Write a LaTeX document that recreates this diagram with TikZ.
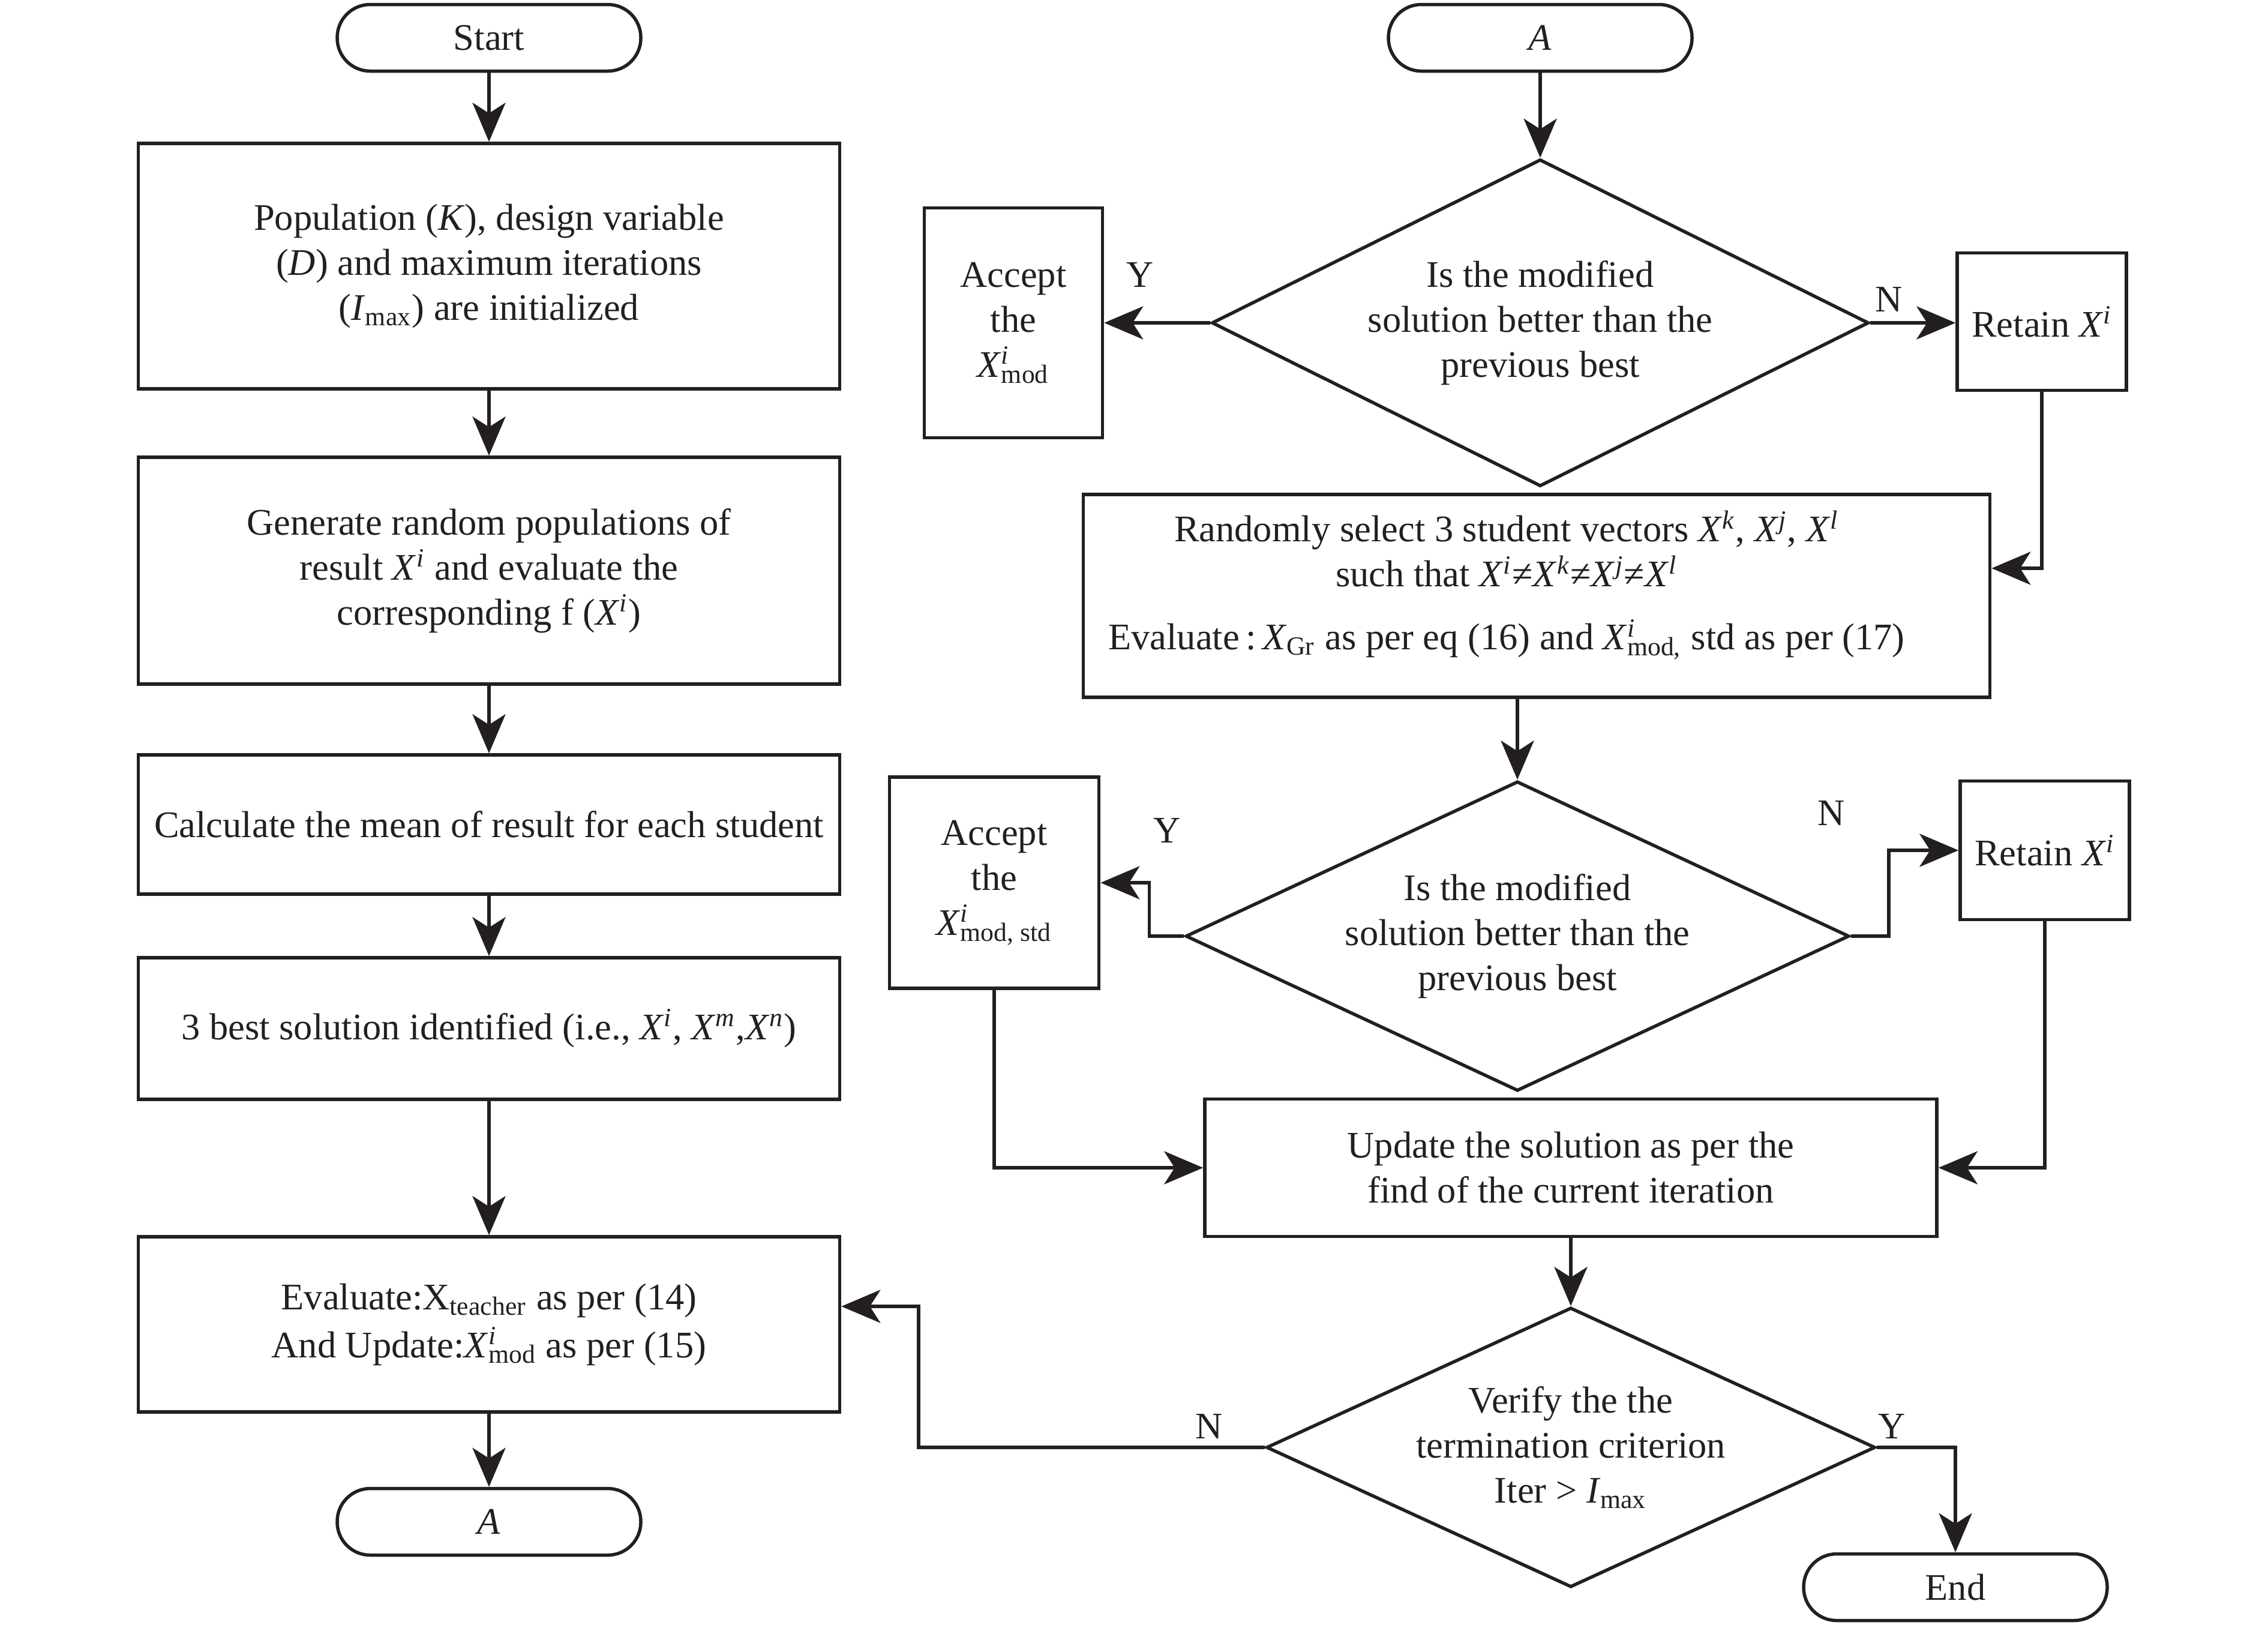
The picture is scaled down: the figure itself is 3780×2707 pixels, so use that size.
\documentclass[tikz,border=0pt]{standalone}
\usepackage{fontspec}
\setmainfont{Liberation Serif}
\usetikzlibrary{shapes.geometric,arrows.meta}
\definecolor{ink}{HTML}{231F20}
\newcommand\Xsub[2]{\textit{X}\rlap{\textsuperscript{\textit{#1}}}\textsubscript{#2}}
\newcommand\Xsup[1]{\textit{X}\textsuperscript{\textit{#1}}}
\begin{document}
\begin{tikzpicture}[x=0.2pt,y=-0.2pt,
  font=\fontsize{12.5}{15}\selectfont,
  line width=1.1pt, color=ink,
  >={Stealth[length=13pt,width=11pt,inset=3.5pt]},
  box/.style={draw,rectangle,align=center,inner sep=0pt},
  term/.style={draw,rectangle,rounded corners=11pt,minimum width=101.2pt,minimum height=22.2pt,inner sep=0pt},
  dec/.style={draw,diamond,align=center,inner sep=0pt,aspect=2},
  lbl/.style={inner sep=0pt}]
\useasboundingbox (0,0) rectangle (3780,2707);
% left column
\node[term] (start) at (815,63) {Start};
\node[box,minimum width=233.8pt,minimum height=81.8pt] (box1) at (815,443.5)
  {Population (\textit{K}), design variable\\(\textit{D}) and maximum iterations\\(\textit{I}\textsubscript{max}) are initialized};
\node[box,minimum width=233.8pt,minimum height=75.6pt] (box2) at (815,951)
  {Generate random populations of\\result \Xsup{i} and evaluate the\\corresponding f (\Xsup{i})};
\node[box,minimum width=233.8pt,minimum height=46.4pt] (box3) at (815,1374)
  {Calculate the mean of result for each student};
\node[box,minimum width=233.8pt,minimum height=47.2pt] (box4) at (815,1714)
  {3 best solution identified (i.e., \Xsup{i}, \Xsup{m},\Xsup{n})};
\node[box,minimum width=233.8pt,minimum height=58.4pt] (box5) at (815,2207)
  {Evaluate:X\textsubscript{teacher} as per (14)\\[1pt]And Update:\Xsub{i}{mod} as per (15)};
\node[term] (abot) at (815,2536) {\textit{A}};
% right column
\node[term] (atop) at (2567,63) {\textit{A}};
\node[dec,minimum width=219pt,minimum height=109pt] (d1) at (2567,538)
  {Is the modified\\solution better than the\\previous best};
\node[box,minimum width=59.4pt,minimum height=76.6pt] (acc1) at (1689,538)
  {Accept\\the\\\Xsub{i}{mod}};
\node[box,minimum width=56.4pt,minimum height=45.8pt] (ret1) at (3403,536)
  {Retain \Xsup{i}};
\node[box,minimum width=302.2pt,minimum height=67.6pt] (box6) at (2561,993) {};
\node[align=center,inner sep=0pt] (box6t) at (2511,975)
  {Randomly select 3 student vectors \Xsup{k}, \Xsup{j}, \Xsup{l}\\
   such that \Xsup{i}≠\Xsup{k}≠\Xsup{j}≠\Xsup{l}\\[6pt]
   Evaluate\,:\,\textit{X}\textsubscript{Gr} as per eq (16) and \Xsub{i}{mod,} std as per (17)};
\node[dec,minimum width=221.2pt,minimum height=103.2pt] (d2) at (2529,1560)
  {Is the modified\\solution better than the\\previous best};
\node[box,minimum width=69.8pt,minimum height=70.4pt] (acc2) at (1657,1471)
  {Accept\\the\\\Xsub{i}{mod, std}};
\node[box,minimum width=56.4pt,minimum height=46.2pt] (ret2) at (3408,1417)
  {Retain \Xsup{i}};
\node[box,minimum width=244pt,minimum height=45.8pt] (box7) at (2618,1946)
  {Update the solution as per the\\find of the current iteration};
\node[dec,minimum width=203pt,minimum height=93.2pt,aspect=2.18] (d3) at (2618,2412)
  {Verify the the\\termination criterion\\Iter > \textit{I}\textsubscript{max}};
\node[term] (endn) at (3259,2645) {End};
% labels
\node[lbl] (y1) at (1900,458) {Y};
\node[lbl] (n1) at (3148,499) {N};
\node[lbl] (y2) at (1945,1384) {Y};
\node[lbl] (n2) at (3052,1355) {N};
\node[lbl] (n3) at (2015,2377) {N};
\node[lbl] (y3) at (3153,2377) {Y};
% helper coordinates
\coordinate (j1) at (3403,947);
\coordinate (j5) at (1531,2177);
% left connectors
\draw[->] (start) -- (box1);
\draw[->] (box1) -- (box2);
\draw[->] (box2) -- (box3);
\draw[->] (box3) -- (box4);
\draw[->] (box4) -- (box5);
\draw[->] (box5) -- (abot);
% right connectors
\draw[->] (atop) -- (d1);
\draw[->] (d1.west) -- (acc1.east);
\draw[->] (d1.east) -- (d1.east -| ret1.west);
\draw[->] (ret1.south) -- (j1) -- (box6.east |- j1);
\draw[->] (d2.north |- box6.south) -- (d2.north);
\draw[->] (d2.west) -- ++(-58,0) |- (acc2.east);
\draw[->] (d2.east) -- ++(63,0) |- (ret2.west);
\draw[->] (acc2.south) |- (box7.west);
\draw[->] (ret2.south) |- (box7.east);
\draw[->] (box7) -- (d3);
\draw[->] (d3.west) -- (d3.west -| j5) -- (j5) -- (box5.east |- j5);
\draw[->] (d3.east) -| (endn.north);
\end{tikzpicture}
\end{document}
